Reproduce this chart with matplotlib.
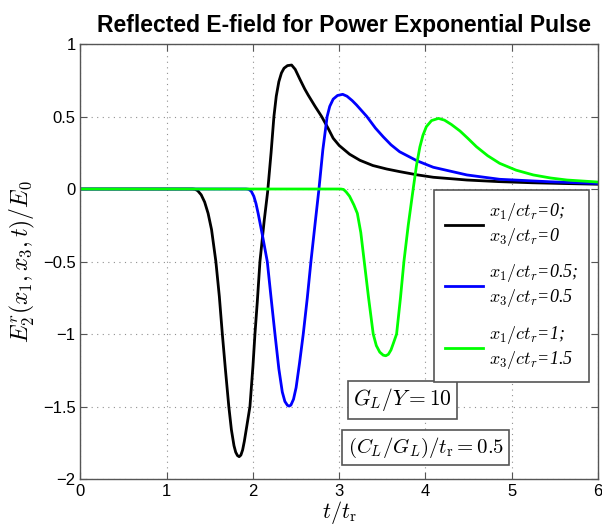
import matplotlib
matplotlib.use('Agg')
from matplotlib import pyplot as plt
import numpy as np

plt.rcParams.update({
    'font.family': 'Liberation Sans',
    'mathtext.fontset': 'cm',
    'xtick.labelsize': 12,
    'ytick.labelsize': 12,
})

# black curve: x1/ctr=0, x3/ctr=0
t_black = [0, 1.30, 1.33, 1.36, 1.40, 1.44, 1.48, 1.52, 1.57, 1.61, 1.645, 1.68, 1.72, 1.75,
           1.78, 1.80, 1.82, 1.84, 1.86, 1.88, 1.90, 1.93, 1.965, 2.00, 2.023, 2.05, 2.081,
           2.13, 2.17, 2.21, 2.243, 2.27, 2.30, 2.33, 2.36, 2.40, 2.448, 2.49, 2.545, 2.60,
           2.64, 2.72, 2.796, 2.87, 2.93, 3.00, 3.12, 3.24, 3.39, 3.55, 3.70, 3.90, 4.09,
           4.48, 4.85, 5.24, 5.60, 6.0]
e_black = [0, 0, -0.002, -0.012, -0.04, -0.09, -0.168, -0.28, -0.50, -0.74, -1.00, -1.24,
           -1.50, -1.66, -1.77, -1.815, -1.838, -1.846, -1.835, -1.80, -1.74, -1.63, -1.50,
           -1.22, -1.00, -0.78, -0.50, -0.22, -0.02, 0.25, 0.50, 0.64, 0.74, 0.80, 0.833,
           0.851, 0.855, 0.825, 0.756, 0.69, 0.648, 0.57, 0.50, 0.42, 0.35, 0.30, 0.24,
           0.198, 0.162, 0.138, 0.12, 0.098, 0.081, 0.062, 0.051, 0.043, 0.038, 0.033]

# blue curve: x1/ctr=0.5, x3/ctr=0.5
t_blue = [0, 1.92, 1.95, 1.98, 2.01, 2.035, 2.06, 2.11, 2.166, 2.21, 2.255, 2.30, 2.34,
          2.37, 2.40, 2.42, 2.44, 2.47, 2.50, 2.54, 2.583, 2.63, 2.672, 2.72, 2.765, 2.81,
          2.86, 2.89, 2.93, 2.98, 3.04, 3.09, 3.15, 3.20, 3.26, 3.32, 3.42, 3.51, 3.60,
          3.70, 3.90, 4.09, 4.48, 4.86, 5.44, 6.0]
e_blue = [0, 0, -0.002, -0.015, -0.05, -0.10, -0.168, -0.32, -0.50, -0.75, -1.00, -1.24,
          -1.40, -1.465, -1.492, -1.497, -1.49, -1.45, -1.37, -1.20, -1.00, -0.75, -0.50,
          -0.24, 0.0, 0.27, 0.50, 0.57, 0.62, 0.645, 0.653, 0.64, 0.61, 0.58, 0.54, 0.50,
          0.42, 0.36, 0.305, 0.257, 0.195, 0.15, 0.097, 0.067, 0.05, 0.038]

# green curve: x1/ctr=1, x3/ctr=1.5
t_green = [0, 3.02, 3.05, 3.08, 3.12, 3.17, 3.21, 3.25, 3.29, 3.34, 3.394, 3.43, 3.47,
           3.51, 3.54, 3.57, 3.60, 3.63, 3.665, 3.71, 3.75, 3.80, 3.857, 3.895, 3.935,
           3.97, 4.01, 4.07, 4.15, 4.22, 4.30, 4.40, 4.49, 4.59, 4.72, 4.86, 5.05, 5.25,
           5.45, 5.64, 6.0]
e_green = [0, 0, -0.003, -0.02, -0.05, -0.11, -0.168, -0.30, -0.50, -0.75, -1.00, -1.08,
           -1.125, -1.146, -1.15, -1.14, -1.11, -1.06, -1.00, -0.75, -0.50, -0.25, 0.0,
           0.16, 0.29, 0.37, 0.43, 0.472, 0.487, 0.475, 0.445, 0.40, 0.35, 0.292, 0.23,
           0.177, 0.13, 0.097, 0.076, 0.062, 0.048]

labels = ['$x_1/ct_r$=0;\n$x_3/ct_r$=0',
          '$x_1/ct_r$=0.5;\n$x_3/ct_r$=0.5',
          '$x_1/ct_r$=1;\n$x_3/ct_r$=1.5']
colors = ['k', '#0000ff', '#00ff00']

fig = plt.figure(figsize=(6.02, 5.29), dpi=100)
ax = fig.add_axes([0.1336, 0.0945, 0.8598, 0.8223])

for t, e, c, lab in zip([t_black, t_blue, t_green], [e_black, e_blue, e_green], colors, labels):
    ax.plot(t, e, color=c, lw=2, label=lab)

ax.set_xlim(0, 6)
ax.set_ylim(-2, 1)
ax.set_xticks(range(7))
ax.set_yticks([-2, -1.5, -1, -0.5, 0, 0.5, 1])
ax.set_yticklabels(['\u22122', '\u22121.5', '\u22121', '\u22120.5', '0', '0.5', '1'])
ax.grid(True, linestyle=(0, (1, 4)), color='#909090', lw=0.8)
ax.tick_params(axis='both', which='both', direction='in', top=True, right=True,
               length=5, color='#555555')
for s in ax.spines.values():
    s.set_color('#555555')
    s.set_linewidth(1.0)

ax.set_title('Reflected E-field for Power Exponential Pulse', fontsize=16.5,
             fontweight='bold', pad=9, x=0.51)
ax.set_xlabel(r'$t/t_{\mathrm{r}}$', fontsize=16, labelpad=0)
ax.set_ylabel(r'$E_2^r(x_1,x_3,t)/E_0$', fontsize=17, labelpad=4)

leg = ax.legend(loc='upper left', bbox_to_anchor=(0.683, 0.664), borderaxespad=0,
                fancybox=False, edgecolor='#555555', handlelength=2.1,
                labelspacing=0.8, borderpad=0.6, handletextpad=0.35,
                prop={'family': 'Liberation Serif', 'style': 'italic', 'size': 13})
leg.get_frame().set_linewidth(1.2)
leg.get_frame().set_alpha(1)

box = dict(boxstyle='square,pad=0.25', fc='white', ec='#555555', lw=1.2)
ax.text(0.527, 0.182, r'$G_L/Y=10$', transform=ax.transAxes, fontsize=15.5,
        ha='left', va='center', bbox=box)
ax.text(0.516, 0.072, r'$(C_L/G_L)/t_{\mathrm{r}}=0.5$', transform=ax.transAxes,
        fontsize=15, ha='left', va='center', bbox=box)

fig.savefig('out.png', dpi=100)
